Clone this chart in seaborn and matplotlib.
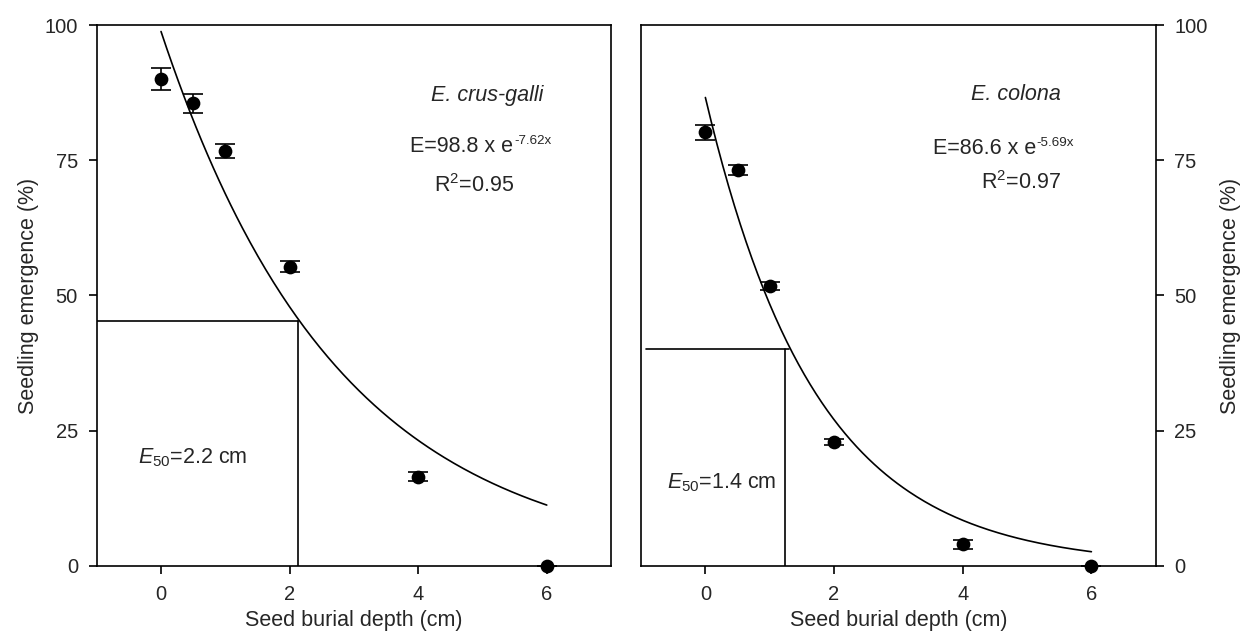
import numpy as np
import pandas as pd
import matplotlib
matplotlib.use("Agg")
import matplotlib.pyplot as plt
import seaborn as sns

sns.set_style("ticks")
plt.rcParams['font.family'] = ['Liberation Sans', 'DejaVu Sans']
plt.rcParams['mathtext.fontset'] = 'custom'
plt.rcParams['mathtext.rm'] = 'Liberation Sans'
plt.rcParams['mathtext.it'] = 'Liberation Sans:italic'

# ---- data ----
depth = [0, 0.5, 1, 2, 4, 6]
crus_galli_mean = [90.0, 85.5, 76.7, 55.3, 16.5, 0.0]
crus_galli_err = [2.1, 1.7, 1.3, 1.0, 0.8, 0.0]
colona_mean = [80.2, 73.2, 51.8, 22.9, 4.0, 0.0]
colona_err = [1.4, 1.0, 0.7, 0.5, 0.8, 0.0]

# fitted exponential curve parameters (as drawn)
crus_galli_a, crus_galli_k = 98.8, 0.362
colona_a, colona_k = 86.6, 0.582

# E50 guide lines: (x start, x end, y level, x of vertical)
crus_galli_e50 = (-1.0, 2.13, 45.3, 2.13)
colona_e50 = (-0.92, 1.30, 40.2, 1.23)

xticks = [0, 2, 4, 6]
yticks = [0, 25, 50, 75, 100]

fig = plt.figure(figsize=(12.45, 6.38), dpi=100)
ax1 = fig.add_axes([0.0777, 0.1129, 0.4131, 0.8479])
ax2 = fig.add_axes([0.5149, 0.1129, 0.4134, 0.8479])

LW = 1.2

def draw(ax, mean, err, a, k):
    xs = np.linspace(0, 6, 200)
    curve = pd.DataFrame({"x": xs, "y": a * np.exp(-k * xs)})
    sns.lineplot(data=curve, x="x", y="y", ax=ax, color="black", lw=LW)
    ax.errorbar(depth, mean, yerr=err, fmt="none", ecolor="black",
                elinewidth=LW, capsize=7.5, capthick=LW, clip_on=False, zorder=3)
    df = pd.DataFrame({"x": depth, "y": mean})
    sns.scatterplot(data=df, x="x", y="y", ax=ax, color="black", s=98,
                    edgecolor="black", linewidth=0, zorder=4, clip_on=False)
    ax.set_xlim(-1, 7)
    ax.set_ylim(0, 100)
    ax.set_xticks(xticks)
    ax.set_yticks(yticks)
    ax.tick_params(direction="out", length=5.5, width=LW, labelsize=14.5, color="black")
    ax.tick_params(axis="x", pad=8.5)
    ax.tick_params(axis="y", pad=8)
    for s in ax.spines.values():
        s.set_visible(True)
        s.set_linewidth(LW)
        s.set_color("black")
    ax.set_xlabel("Seed burial depth (cm)", fontsize=15.5, labelpad=4)
    ax.set_ylabel("Seedling emergence (%)", fontsize=15.5)

draw(ax1, crus_galli_mean, crus_galli_err, crus_galli_a, crus_galli_k)
draw(ax2, colona_mean, colona_err, colona_a, colona_k)

# E50 lines
for ax, (x0, x1, yl, xv) in ((ax1, crus_galli_e50), (ax2, colona_e50)):
    ax.plot([x0, x1], [yl, yl], color="black", lw=LW)
    ax.plot([xv, xv], [0, yl], color="black", lw=LW)

# right panel y-axis on the right
ax2.yaxis.tick_right()
ax2.yaxis.set_label_position("right")
ax1.yaxis.labelpad = 4
ax2.yaxis.labelpad = 8.5

# annotations
fs = 15.5
sup_fs = 9.6

def equation(ax, x, y, base, sup):
    t = ax.text(x, y, base, ha="left", va="baseline", fontsize=fs)
    ax.annotate(sup, xy=(1, 0), xycoords=t, xytext=(0.3, 9.4),
                textcoords="offset points", ha="left", va="baseline", fontsize=sup_fs)

ax1.text(5.08, 86.0, "E. crus-galli", style="italic", ha="center", va="baseline", fontsize=fs)
equation(ax1, 3.88, 76.6, "E=98.8 x e", "-7.62x")
ax1.text(4.87, 69.2, r"R$^{2}$=0.95", ha="center", va="baseline", fontsize=fs)
ax1.text(0.5, 19.0, r"$\mathit{E}_{50}$=2.2 cm", ha="center", va="baseline", fontsize=fs)

ax2.text(4.83, 86.2, "E. colona", style="italic", ha="center", va="baseline", fontsize=fs)
equation(ax2, 3.54, 76.1, "E=86.6 x e", "-5.69x")
ax2.text(4.91, 69.6, r"R$^{2}$=0.97", ha="center", va="baseline", fontsize=fs)
ax2.text(1.10, 14.35, r"$\mathit{E}_{50}$=1.4 cm", ha="right", va="baseline", fontsize=fs)

fig.savefig("out.png", dpi=100)
